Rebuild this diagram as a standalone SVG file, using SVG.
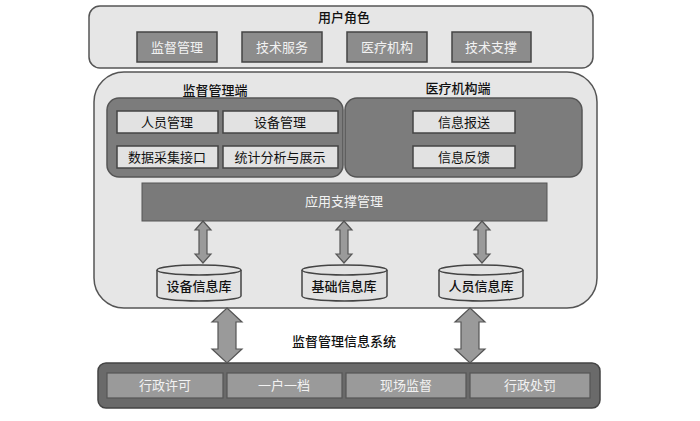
<svg xmlns="http://www.w3.org/2000/svg" width="700" height="421" viewBox="0 0 700 421">
<style>
text{font-family:"Liberation Sans","Noto Sans CJK SC",sans-serif;font-size:13px;text-anchor:middle;dominant-baseline:central;fill:#111}
.panel{fill:#e6e6e6;stroke:#555;stroke-width:1.5}
.sub{fill:#7c7c7c;stroke:#555;stroke-width:1.5}
.role{fill:#8c8c8c;stroke:#444;stroke-width:1.5}
.light{fill:#e2e2e2;stroke:#444;stroke-width:1.5}
.bar{fill:#7a7a7a;stroke:#555;stroke-width:1}
.cell{fill:#9a9a9a;stroke:#555;stroke-width:1.2}
.arrow{fill:#9a9a9a;stroke:#555;stroke-width:1.2}
.w{fill:#f2f2f2}
.t{font-weight:500}
</style>
<g id="user-roles">
<rect class="panel" x="89" y="6" width="504" height="62" rx="11"/>
<text class="t" x="344" y="17">用户角色</text>
<rect class="role" x="137" y="32" width="80" height="30"/><text class="w" x="177" y="47">监督管理</text>
<rect class="role" x="242" y="32" width="80" height="30"/><text class="w" x="282" y="47">技术服务</text>
<rect class="role" x="347" y="32" width="80" height="30"/><text class="w" x="387" y="47">医疗机构</text>
<rect class="role" x="452" y="32" width="79" height="30"/><text class="w" x="491" y="47">技术支撑</text>
</g>
<g id="system">
<rect class="panel" x="94" y="72" width="503" height="236" rx="30"/>
<text class="t" x="344" y="341">监督管理信息系统</text>
</g>
<g id="supervision-end">
<text class="t" x="215" y="90">监督管理端</text>
<rect class="sub" x="107" y="98" width="236" height="79" rx="12"/>
<rect class="light" x="117" y="111" width="101" height="22"/><text x="167" y="122">人员管理</text>
<rect class="light" x="223" y="111" width="115" height="22"/><text x="280" y="122">设备管理</text>
<rect class="light" x="117" y="146" width="101" height="22"/><text x="167" y="157">数据采集接口</text>
<rect class="light" x="223" y="146" width="115" height="22"/><text x="280" y="157">统计分析与展示</text>
</g>
<g id="medical-end">
<text class="t" x="458" y="88">医疗机构端</text>
<rect class="sub" x="345" y="98" width="237" height="79" rx="12"/>
<rect class="light" x="413" y="111" width="102" height="22"/><text x="464" y="122">信息报送</text>
<rect class="light" x="413" y="146" width="102" height="22"/><text x="464" y="157">信息反馈</text>
</g>
<g id="app-support">
<rect class="bar" x="142" y="183" width="405" height="38"/>
<text class="w" x="344" y="201">应用支撑管理</text>
</g>
<g id="db-device">
<path class="light" d="M157,270 V296 A42,5 0 0 0 241,296 V270"/>
<ellipse class="light" cx="199" cy="270" rx="42" ry="5"/>
<text class="t" x="199" y="286">设备信息库</text>
</g>
<g id="db-base">
<path class="light" d="M302,270 V296 A42.5,5 0 0 0 387,296 V270"/>
<ellipse class="light" cx="344.5" cy="270" rx="42.5" ry="5"/>
<text class="t" x="344" y="286">基础信息库</text>
</g>
<g id="db-staff">
<path class="light" d="M439,270 V296 A42,5 0 0 0 523,296 V270"/>
<ellipse class="light" cx="481" cy="270" rx="42" ry="5"/>
<text class="t" x="481" y="286">人员信息库</text>
</g>
<g id="business">
<rect x="98" y="363" width="502" height="45" rx="8" fill="#6a6a6a" stroke="#444" stroke-width="1.5"/>
<rect class="cell" x="107" y="373" width="116" height="25"/><text class="w" x="165" y="385">行政许可</text>
<rect class="cell" x="227" y="373" width="115" height="25"/><text class="w" x="284" y="385">一户一档</text>
<rect class="cell" x="346" y="373" width="120" height="25"/><text class="w" x="406" y="385">现场监督</text>
<rect class="cell" x="470" y="373" width="120" height="25"/><text class="w" x="530" y="385">行政处罚</text>
</g>
<g id="connectors">
<path class="arrow" d="M203,221 L211,230 H207 V254 H211 L203,263 L195,254 H199 V230 H195 Z"/>
<path class="arrow" d="M344,221 L352,230 H348 V254 H352 L344,263 L336,254 H340 V230 H336 Z"/>
<path class="arrow" d="M482,221 L490,230 H486 V254 H490 L482,263 L474,254 H478 V230 H474 Z"/>
<path class="arrow" d="M227,308 L242,322 H236 V349 H242 L227,363 L212,349 H218 V322 H212 Z"/>
<path class="arrow" d="M470,308 L485,322 H479 V349 H485 L470,363 L455,349 H461 V322 H455 Z"/>
</g>
</svg>
